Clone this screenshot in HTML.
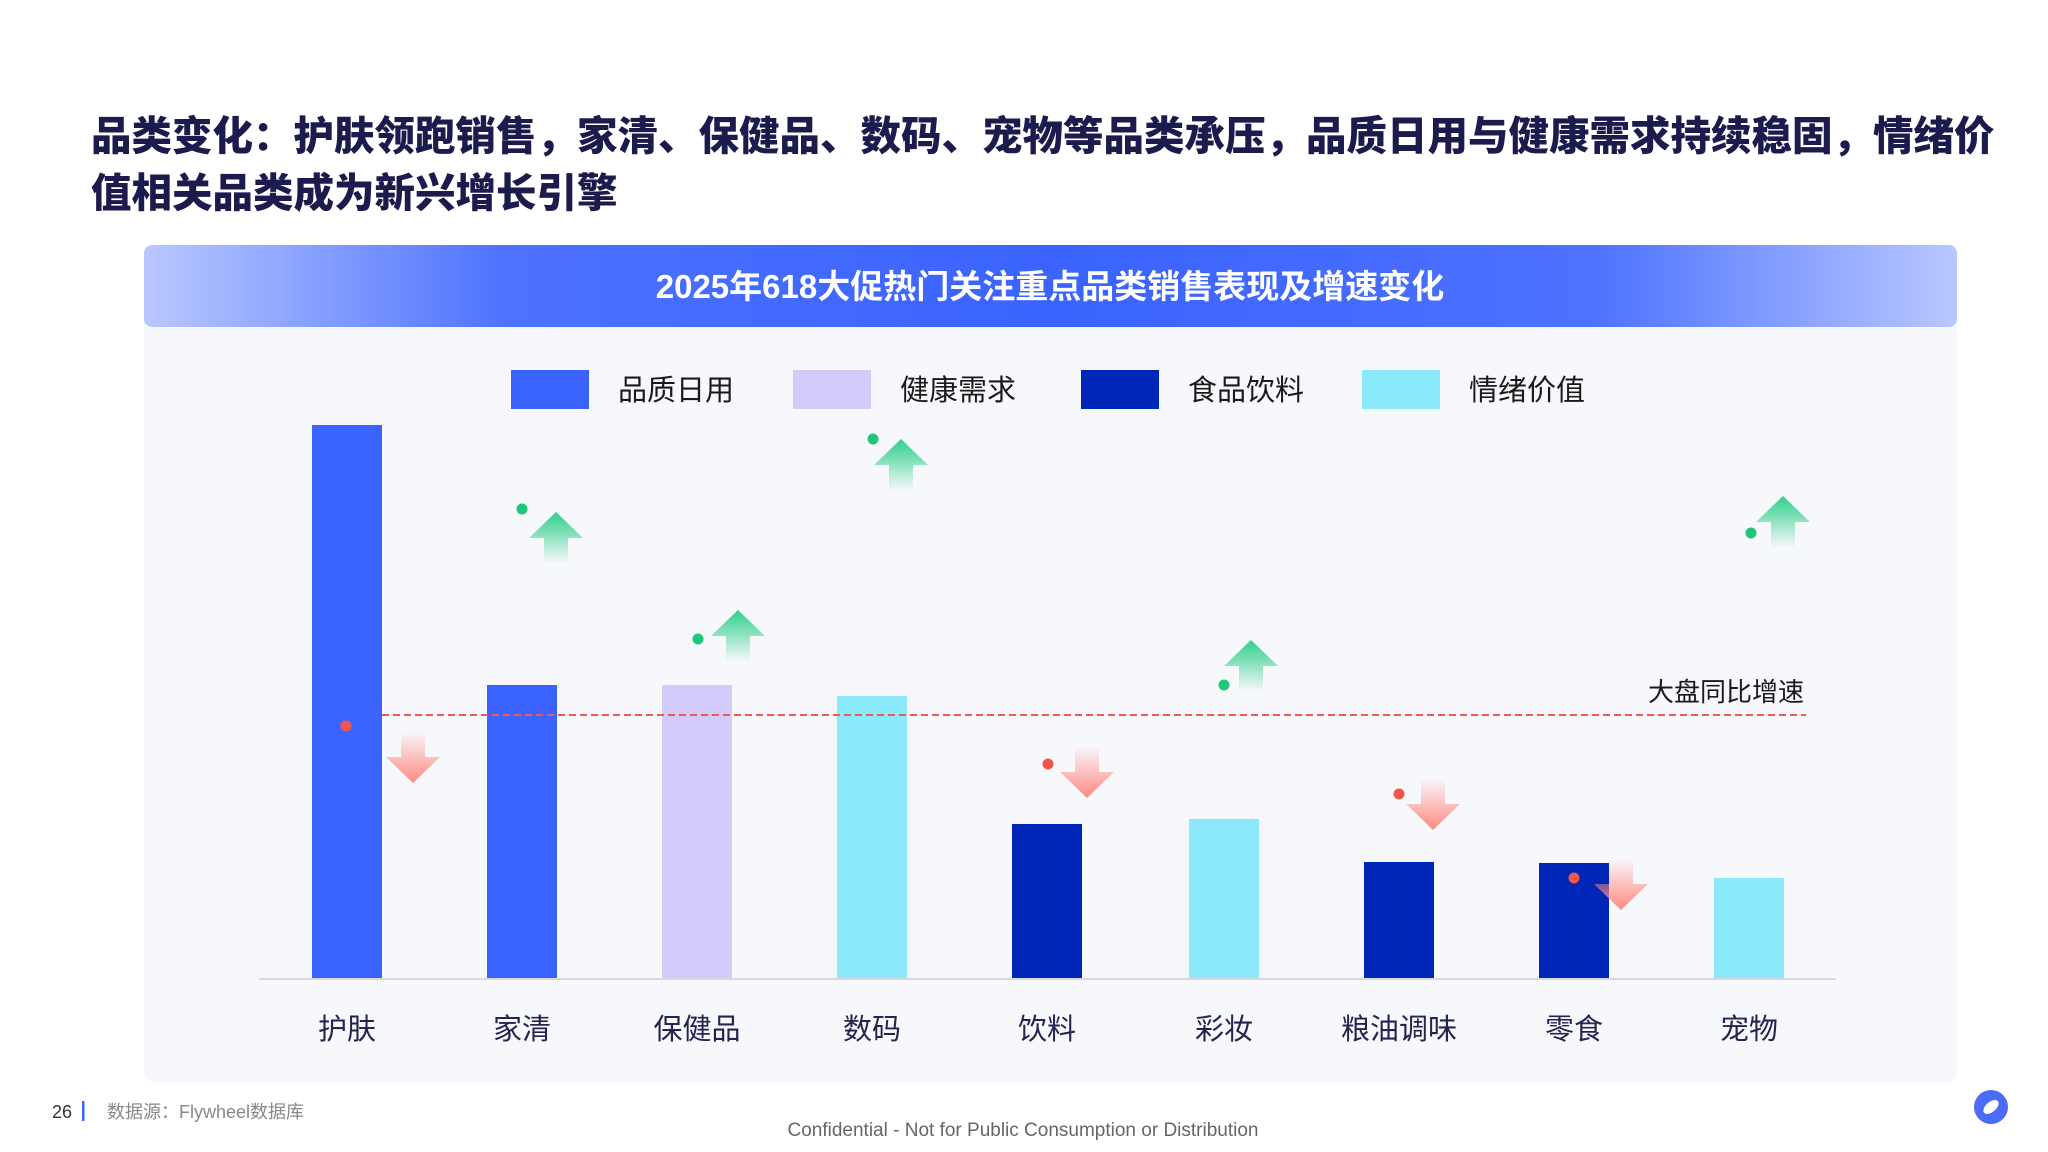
<!DOCTYPE html>
<html><head><meta charset="utf-8">
<style>
html,body{margin:0;padding:0;background:#fff;}
body{width:2048px;height:1152px;position:relative;overflow:hidden;font-family:"Liberation Sans","Noto Sans CJK SC",sans-serif;}
.t{position:absolute;left:91px;font-size:40.5px;font-weight:900;color:#1c1b4d;white-space:nowrap;line-height:1;}
</style></head><body>
<div class="t" style="top:116px;">品类变化：护肤领跑销售，家清、保健品、数码、宠物等品类承压，品质日用与健康需求持续稳固，情绪价</div>
<div class="t" style="top:173px;">值相关品类成为新兴增长引擎</div>
<svg width="2048" height="1152" style="position:absolute;left:0;top:0" xmlns="http://www.w3.org/2000/svg">
<defs>
<linearGradient id="hd" x1="0" x2="1" y1="0" y2="0">
<stop offset="0" stop-color="#b9c8ff"/><stop offset="0.2" stop-color="#4d72ff"/><stop offset="0.5" stop-color="#3a63ff"/><stop offset="0.8" stop-color="#4d72ff"/><stop offset="1" stop-color="#b9c8ff"/>
</linearGradient>
<linearGradient id="up" x1="0" x2="0" y1="0" y2="1"><stop offset="0" stop-color="#2fcf8a"/><stop offset="1" stop-color="#2fcf8a" stop-opacity="0"/></linearGradient>
<linearGradient id="dn" x1="0" x2="0" y1="0" y2="1"><stop offset="0" stop-color="#ff8a80" stop-opacity="0"/><stop offset="1" stop-color="#ff8a80"/></linearGradient>
<g id="ua"><polygon points="0,-26 27,0 12,0 12,26 -12,26 -12,0 -27,0" fill="url(#up)"/></g>
<g id="da"><polygon points="0,26 27,0 12,0 12,-26 -12,-26 -12,0 -27,0" fill="url(#dn)"/></g>
</defs>
<rect x="144" y="250" width="1813" height="833" rx="12" fill="#f7f8fc"/>
<rect x="144" y="245" width="1813" height="82" rx="8" fill="url(#hd)"/>
<text x="1050" y="298" text-anchor="middle" font-size="33" font-weight="bold" fill="#fff" font-family="Liberation Sans,Noto Sans CJK SC,sans-serif">2025年618大促热门关注重点品类销售表现及增速变化</text>
<g font-size="29" fill="#1a1a1a" font-family="Liberation Sans,Noto Sans CJK SC,sans-serif">
<rect x="511" y="370" width="78" height="39" fill="#3a63ff"/><text x="618" y="400">品质日用</text>
<rect x="793" y="370" width="78" height="39" fill="#d3ccfa"/><text x="900" y="400">健康需求</text>
<rect x="1081" y="370" width="78" height="39" fill="#0026b8"/><text x="1188" y="400">食品饮料</text>
<rect x="1362" y="370" width="78" height="39" fill="#8ae9fb"/><text x="1469" y="400">情绪价值</text>
</g>
<line x1="259" y1="979" x2="1836" y2="979" stroke="#d8d8de" stroke-width="2"/>
<g>
<rect x="312" y="425" width="70" height="553" fill="#3a63ff"/>
<rect x="487" y="685" width="70" height="293" fill="#3a63ff"/>
<rect x="662" y="685" width="70" height="293" fill="#d3ccfa"/>
<rect x="837" y="696" width="70" height="282" fill="#8ae9fb"/>
<rect x="1012" y="824" width="70" height="154" fill="#0026b8"/>
<rect x="1189" y="819" width="70" height="159" fill="#8ae9fb"/>
<rect x="1364" y="862" width="70" height="116" fill="#0026b8"/>
<rect x="1539" y="863" width="70" height="115" fill="#0026b8"/>
<rect x="1714" y="878" width="70" height="100" fill="#8ae9fb"/>
</g>
<line x1="382" y1="715" x2="1806" y2="715" stroke="#ee5a52" stroke-width="2" stroke-dasharray="7,4"/>
<text x="1648" y="701" font-size="26" fill="#1a1a1a" font-family="Liberation Sans,Noto Sans CJK SC,sans-serif">大盘同比增速</text>
<g>
<circle cx="346" cy="726" r="5.5" fill="#f2554c"/><use href="#da" x="413" y="757"/>
<circle cx="522" cy="509" r="5.5" fill="#1fc77a"/><use href="#ua" x="556" y="538"/>
<circle cx="698" cy="639" r="5.5" fill="#1fc77a"/><use href="#ua" x="738" y="636"/>
<circle cx="873" cy="439" r="5.5" fill="#1fc77a"/><use href="#ua" x="901" y="465"/>
<circle cx="1048" cy="764" r="5.5" fill="#f2554c"/><use href="#da" x="1087" y="772"/>
<circle cx="1224" cy="685" r="5.5" fill="#1fc77a"/><use href="#ua" x="1251" y="666"/>
<circle cx="1399" cy="794" r="5.5" fill="#f2554c"/><use href="#da" x="1433" y="804"/>
<circle cx="1574" cy="878" r="5.5" fill="#f2554c"/><use href="#da" x="1621" y="884"/>
<circle cx="1751" cy="533" r="5.5" fill="#1fc77a"/><use href="#ua" x="1783" y="522"/>
</g>
<g font-size="29" fill="#25234f" text-anchor="middle" font-family="Liberation Sans,Noto Sans CJK SC,sans-serif">
<text x="347" y="1039">护肤</text><text x="522" y="1039">家清</text><text x="697" y="1039">保健品</text>
<text x="872" y="1039">数码</text><text x="1047" y="1039">饮料</text><text x="1224" y="1039">彩妆</text>
<text x="1399" y="1039">粮油调味</text><text x="1574" y="1039">零食</text><text x="1749" y="1039">宠物</text>
</g>
<text x="52" y="1118" font-size="18" fill="#333" font-family="Liberation Sans,sans-serif">26</text>
<rect x="82" y="1101" width="2.5" height="20" fill="#3a63ff"/>
<text x="107" y="1118" font-size="18" fill="#888" font-family="Liberation Sans,Noto Sans CJK SC,sans-serif">数据源：Flywheel数据库</text>
<text x="1023" y="1136" font-size="19" fill="#666" text-anchor="middle" font-family="Liberation Sans,sans-serif">Confidential - Not for Public Consumption or Distribution</text>
<circle cx="1991" cy="1107" r="17" fill="#4a6cf7"/>
<ellipse cx="1991" cy="1107" rx="9" ry="5" transform="rotate(-40 1991 1107)" fill="#fff"/>
</svg>
</body></html>
